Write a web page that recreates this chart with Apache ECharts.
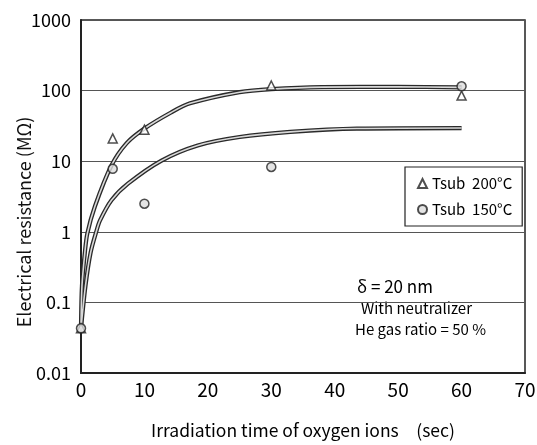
<!DOCTYPE html>
<html><head><meta charset="utf-8">
<script src="https://cdn.jsdelivr.net/npm/echarts@6/dist/echarts.min.js"></script>
<style>html,body{margin:0;padding:0;background:#fff}#c{width:537px;height:445px}</style>
</head><body><div id="c"></div>
<script>
// Measured points (time in sec, resistance in MΩ)
const tri200 = [[0,0.043],[5,21],[10,28],[30,118],[60,85]];
const circ150 = [[0,0.043],[5,7.8],[10,2.5],[30,8.3],[60,115]];
// Fitted curves
const curve200 = [[0,0.043],[0.15,0.17],[0.6,0.5],[1.0,0.95],[2.2,2.3],[4.8,8.7],[7.2,18],[10,29],[14.2,49],[17.2,66],[25,95],[30,105],[38,112],[50,113],[60,111]];
const curve150 = [[0,0.043],[0.7,0.17],[1.5,0.5],[2.4,1.0],[3,1.45],[4.8,2.8],[7.4,4.8],[12.7,10.2],[18.4,16.7],[25,22],[33,26],[43.5,29],[60,29.5]];
const yTickLabels = ['0.01','0.1','1','10','100','1000'];
const xTickLabels = ['0','10','20','30','40','50','60','70'];
const seriesNames = ['Tsub  200°C','Tsub  150°C'];
const yTitle = 'Electrical resistance (MΩ)';
const notes = ['δ = 20 nm','With neutralizer','He gas ratio = 50 %'];

const FONT = '"Noto Sans CJK JP", "Liberation Sans", sans-serif';
const chart = echarts.init(document.getElementById('c'), null, {renderer:'canvas'});
const curveOuter = (d)=>({type:'line', data:d, smooth:0.3, symbol:'none', silent:true, z:2,
  lineStyle:{color:'#2a2a2a', width:4.2}});
const curveInner = (d)=>({type:'line', data:d, smooth:0.3, symbol:'none', silent:true, z:3,
  lineStyle:{color:'#d8d8d8', width:1.6}});
chart.setOption({
  animation:false,
  backgroundColor:'#fff',
  grid:{left:81, right:12, top:20, bottom:72, show:true, borderColor:'#222', borderWidth:1.5,
    backgroundColor:'transparent', containLabel:false, outerBoundsMode:'none'},
  xAxis:{type:'value', min:0, max:70, interval:10,
    axisLine:{show:true, lineStyle:{color:'#222', width:2}}, axisTick:{show:false}, splitLine:{show:false},
    axisLabel:{color:'#000', fontSize:19, fontFamily:FONT, margin:7,
      formatter:(v)=>xTickLabels[Math.round(v/10)]},
    name:'Irradiation time of oxygen ions　(sec)', nameLocation:'middle', nameGap:49,
    nameTextStyle:{color:'#000', fontSize:17.5, fontFamily:FONT}},
  yAxis:{type:'log', logBase:10, min:0.01, max:1000,
    axisLine:{show:true, lineStyle:{color:'#222', width:2}}, axisTick:{show:false},
    splitLine:{show:true, lineStyle:{color:'#555', width:1}},
    minorTick:{show:false}, minorSplitLine:{show:false},
    axisLabel:{color:'#000', fontSize:18, fontFamily:FONT, margin:10,
      formatter:(v)=>yTickLabels[Math.round(Math.log10(v))+2]}},
  legend:{data:seriesNames, orient:'vertical', left:405, top:167, width:113,
    padding:[9,10,9,12], itemGap:11, itemWidth:9, itemHeight:9,
    borderColor:'#222', borderWidth:1.2, backgroundColor:'#fff',
    textStyle:{color:'#000', fontSize:15, fontFamily:FONT, padding:[0,4,0,0]}},
  series:[
    curveOuter(curve200), curveInner(curve200),
    curveOuter(curve150), curveInner(curve150),
    {name:seriesNames[0], type:'scatter', data:tri200, symbol:'triangle', symbolSize:9, z:5,
      itemStyle:{color:'#fff', borderColor:'#222', borderWidth:1.5}},
    {name:seriesNames[1], type:'scatter', data:circ150, symbol:'circle', symbolSize:9, z:5,
      itemStyle:{color:'#ddd', borderColor:'#222', borderWidth:1.5}}
  ],
  graphic:[
    {type:'text', x:24, y:222, rotation:Math.PI/2,
      style:{text:yTitle, font:'18px '+FONT, fill:'#111', align:'center', verticalAlign:'middle'}},
    {type:'text', left:357, top:278, style:{text:notes[0], font:'17px '+FONT, fill:'#000'}},
    {type:'text', left:361, top:301, style:{text:notes[1], font:'15px '+FONT, fill:'#000'}},
    {type:'text', left:355, top:322, style:{text:notes[2], font:'15px '+FONT, fill:'#000'}}
  ]
});
</script></body></html>
